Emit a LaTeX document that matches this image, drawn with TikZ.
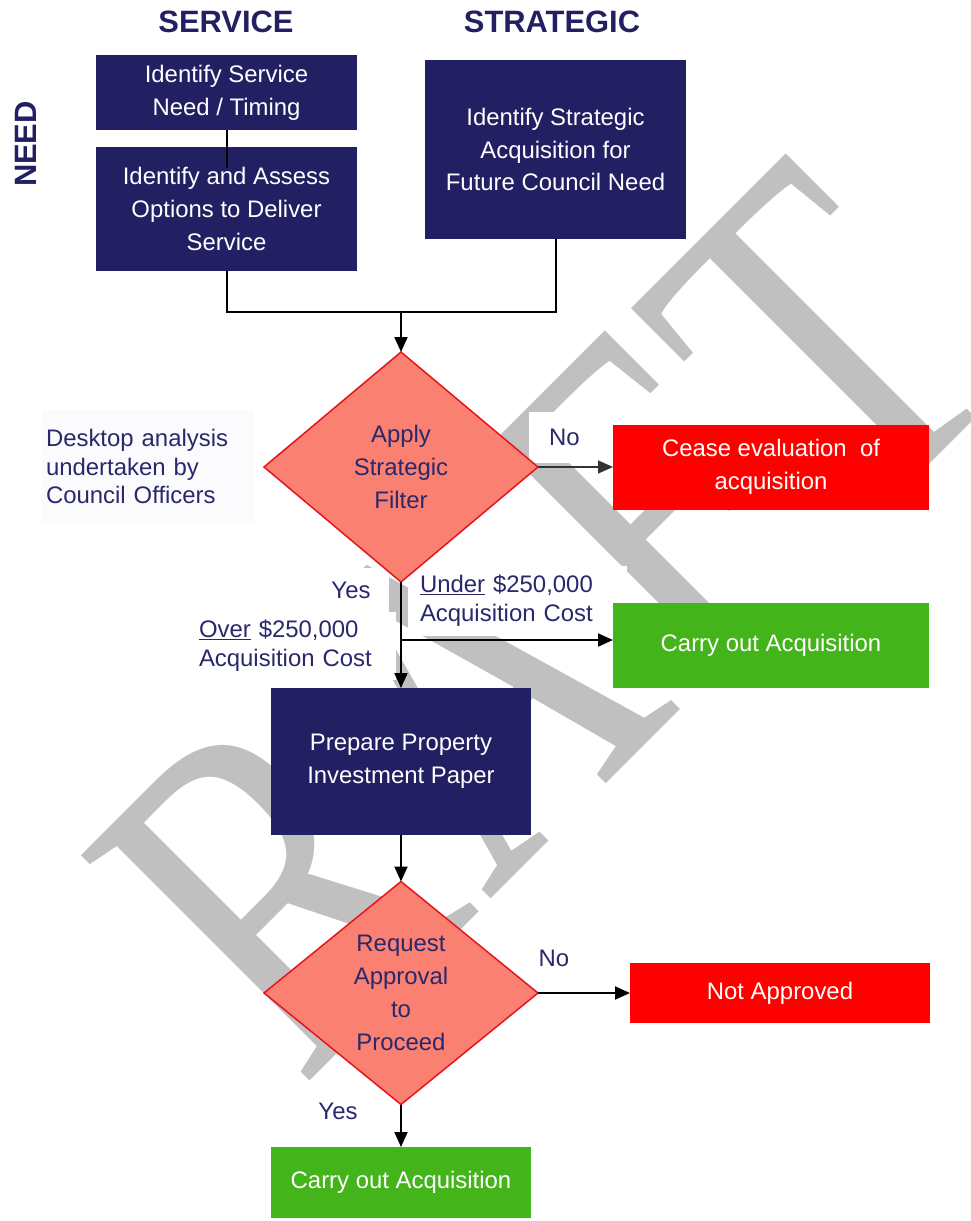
\documentclass[tikz,border=0pt]{standalone}
\usepackage{fontspec}
\usepackage{graphicx}
\setmainfont{Liberation Sans}
\newfontfamily\wmfont{Liberation Serif}
\usetikzlibrary{shapes.geometric,arrows.meta}

\definecolor{navy}{HTML}{221F62}
\definecolor{navytext}{HTML}{29286B}
\definecolor{salmon}{HTML}{FA8072}
\definecolor{edgered}{HTML}{E8141C}
\definecolor{boxred}{HTML}{FF0000}
\definecolor{boxgreen}{HTML}{43B419}
\definecolor{wmgray}{HTML}{C0C0C0}
\definecolor{notebg}{HTML}{FBFBFD}

\tikzset{
  boxtext/.style={inner sep=0pt, outer sep=0pt, align=center,
    font=\fontsize{24}{33}\selectfont},
  navybox/.style={boxtext, rectangle, fill=navy, text=white},
  redbox/.style={boxtext, rectangle, fill=boxred, text=white},
  greenbox/.style={boxtext, rectangle, fill=boxgreen, text=white},
  decision/.style={boxtext, diamond, fill=salmon, draw=edgered,
    line width=1.5bp, text=navytext},
  lbl/.style={inner sep=0pt, outer sep=0pt, text=navytext,
    font=\fontsize{24}{29}\selectfont},
  header/.style={inner sep=0pt, text=navy,
    font=\bfseries\fontsize{31}{31}\selectfont},
  wmletter/.style={anchor=base west, rotate=45, inner sep=0pt,
    outer sep=0pt, text=wmgray},
  conn/.style={black, line width=2bp},
  arr/.style={conn, -{Triangle[length=15bp,width=13bp]}},
  arrthin/.style={black!80, line width=1.2bp,
    -{Triangle[length=15bp,width=13bp]}},
}

\newcommand{\wmchar}[1]{\scalebox{1}[1.29]{\wmfont\fontsize{380bp}{380bp}\selectfont #1}}

\begin{document}
\begin{tikzpicture}[x=1bp,y=-1bp]
\useasboundingbox (0,0) rectangle (971,1221);

% watermark letters, set along a 45 degree baseline
\begin{scope}
  \clip (0,0) rectangle (971,1221);
  \node[wmletter] (wmR) at (300,1090)    {\wmchar{R}};
  \node[wmletter] (wmA) at (488.8,901.2) {\wmchar{A}};
  \node[wmletter] (wmF) at (692.4,697.6) {\wmchar{F}};
  \node[wmletter] (wmT) at (853,540)     {\wmchar{T}};
\end{scope}

% column headings
\node[header] (hserv) at (226,22) {SERVICE};
\node[header] (hstrat) at (552,22) {STRATEGIC};
\node[header, rotate=90] (hneed) at (26,144) {NEED};

% need identification
\node[navybox, minimum width=261bp, minimum height=75bp] (A) at (226.5,92.5)
  {Identify Service\\Need / Timing};
\node[navybox, minimum width=261bp, minimum height=124bp] (B) at (226.5,209)
  {Identify and Assess\\Options to Deliver\\Service};
\node[navybox, minimum width=261bp, minimum height=179bp] (C) at (555.5,149.5)
  {Identify Strategic\\Acquisition for\\Future Council Need};

% branch labels, set on white so that they sit behind the decisions
\node[lbl, fill=notebg, anchor=north west, align=left, text width=204bp,
  inner xsep=4bp, minimum height=113bp] (desk) at (42,410)
  {Desktop analysis\\undertaken by\\Council Officers};
\node[lbl, fill=white, minimum width=71bp, minimum height=51bp] (no1) at (564.5,437.5) {No};
\node[lbl, fill=white, minimum width=76bp, minimum height=44bp] (yes1) at (351,590) {Yes};
\node[lbl, fill=white, anchor=north west, align=left, text width=195bp,
  inner xsep=12bp, minimum height=70bp] (under) at (408,566)
  {\underline{Under} \$250,000\\Acquisition Cost};
\node[lbl, fill=white, anchor=north west, align=left, text width=180bp,
  inner xsep=17bp, minimum height=68bp] (over) at (182,612)
  {\underline{Over} \$250,000\\Acquisition Cost};
\node[lbl, fill=white, minimum width=74bp, minimum height=50bp] (no2) at (554,958) {No};
\node[lbl, fill=white, minimum width=81bp, minimum height=52bp] (yes2) at (338,1111) {Yes};

% strategic filter
\node[decision, minimum width=274bp, minimum height=230bp] (F1) at (401,467)
  {Apply\\Strategic\\Filter};
\node[redbox, minimum width=316bp, minimum height=85bp] (cease) at (771,467)
  {Cease evaluation~ of\\acquisition};
\node[greenbox, minimum width=316bp, minimum height=85bp] (buy1) at (771,645.5)
  {Carry out Acquisition};

% investment paper and approval
\node[navybox, minimum width=260bp, minimum height=147bp] (paper) at (401,761.5)
  {Prepare Property\\Investment Paper};
\node[decision, minimum width=274bp, minimum height=223bp] (F2) at (401,993)
  {Request\\Approval\\to\\Proceed};
\node[redbox, minimum width=300bp, minimum height=60bp] (reject) at (780,993)
  {Not Approved};
\node[greenbox, minimum width=260bp, minimum height=71bp] (buy2) at (401,1182.5)
  {Carry out Acquisition};

% connectors
\coordinate (join) at (401,312);
\coordinate (split) at (401,640);
\draw[conn] (A.south) -- ([yshift=-21bp]B.north);
\draw[conn] (B.south) |- (join) -| (C.south);
\draw[arr] (join) -- (F1.north);
\draw[arrthin] (F1.east) -- (cease.west);
\draw[arr] (F1.south) -- (paper.north);
\draw[arr] (split) -- (split -| buy1.west);
\draw[arr] (paper.south) -- (F2.north);
\draw[arr] (F2.east) -- (reject.west);
\draw[arr] (F2.south) -- (buy2.north);
\end{tikzpicture}
\end{document}
